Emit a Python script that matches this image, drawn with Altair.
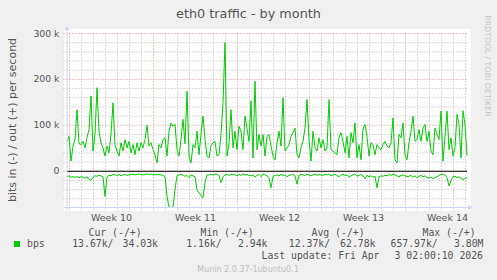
import altair as alt
import pandas as pd

# ---------------- data ----------------
TITLE = "eth0 traffic - by month"
Y_TITLE = "bits in (-) / out (+) per second"
WATERMARK = "RRDTOOL / TOBI OETIKER"
FOOTER = "Munin 2.0.37-1ubuntu0.1"
SERIES_NAME = "bps"
STEP_HOURS = 4  # spacing of the samples, hours

# out (+) traffic, k bits/s
out_k = [65, 76, 22, 55, 69, 134, 60, 58, 65, 51,
         73, 91, 164, 44, 80, 182, 87, 62, 51, 33,
         55, 40, 80, 149, 58, 44, 33, 62, 44, 69,
         51, 65, 40, 58, 36, 62, 44, 62, 51, 69,
         100, 55, 62, 47, 36, 18, 58, 51, 69, 73,
         33, 87, 105, 98, 102, 47, 33, 69, 113, 60,
         174, 33, 18, 58, 51, 87, 36, 80, 120, 69,
         33, 29, 55, 62, 65, 33, 36, 80, 149, 280,
         33, 60, 134, 51, 87, 47, 98, 87, 47, 120,
         94, 65, 153, 29, 196, 47, 80, 55, 80, 33,
         76, 80, 55, 33, 25, 62, 87, 55, 160, 44,
         51, 58, 76, 84, 94, 36, 29, 51, 65, 94,
         156, 69, 22, 87, 51, 44, 73, 51, 69, 44,
         51, 156, 47, 44, 40, 36, 73, 84, 65, 40,
         76, 29, 84, 62, 105, 29, 58, 25, 91, 102,
         76, 33, 62, 58, 36, 58, 51, 47, 58, 65,
         55, 51, 62, 116, 25, 18, 80, 73, 105, 36,
         25, 62, 87, 120, 65, 69, 91, 65, 94, 102,
         65, 87, 44, 36, 94, 80, 69, 131, 22, 76,
         131, 47, 73, 33, 51, 124, 102, 29, 132, 102,
         34]

# in (-) traffic, k bits/s (drawn below zero)
in_k = [12, 10, 13, 12, 13, 12, 14, 12, 13, 15,
        12, 18, 20, 13, 10, 11, 9, 10, 12, 55,
        12, 9, 10, 7, 8, 9, 7, 10, 8, 7,
        9, 8, 7, 7, 8, 7, 6, 7, 8, 7,
        6, 7, 6, 8, 7, 8, 7, 8, 9, 12,
        55, 78, 79, 78, 40, 10, 8, 7, 8, 11,
        9, 14, 8, 10, 12, 40, 48, 52, 58, 25,
        8, 8, 7, 8, 6, 7, 9, 25, 12, 8,
        7, 9, 6, 7, 8, 10, 7, 9, 6, 8,
        7, 9, 10, 8, 13, 9, 7, 12, 6, 8,
        10, 14, 36, 12, 9, 8, 10, 7, 9, 8,
        12, 9, 8, 7, 10, 28, 9, 7, 8, 9,
        7, 8, 10, 8, 6, 9, 7, 8, 9, 7,
        8, 6, 10, 8, 7, 9, 12, 8, 7, 9,
        8, 13, 10, 8, 6, 11, 9, 7, 10, 16,
        9, 12, 10, 13, 11, 36, 12, 10, 11, 9,
        10, 7, 9, 6, 8, 10, 12, 9, 8, 10,
        12, 11, 9, 13, 10, 14, 11, 9, 12, 10,
        14, 15, 13, 16, 14, 12, 9, 7, 6, 8,
        14, 32, 20, 12, 11, 14, 12, 15, 18, 16,
        14]

week_labels = ["Week 10", "Week 11", "Week 12", "Week 13", "Week 14"]
week_mid_hours = [89, 257, 425, 593, 761]
week_start_hours = [5, 173, 341, 509, 677]
day_start_hours = list(range(5, 800, 24))
y_major = [0, 100, 200, 300]
y_tick_labels = ["0", "100 k", "200 k", "300 k"]
y_minor = [-60, -40, -20, 20, 40, 60, 80, 120, 140, 160, 180, 220, 240, 260, 280]

legend_headers = ["Cur (-/+)", "Min (-/+)", "Avg (-/+)", "Max (-/+)"]
legend_in = ["13.67k/", "1.16k/", "12.37k/", "657.97k/"]
legend_out = ["34.03k", "2.94k", "62.78k", "3.80M"]
last_update = ["Last update: Fri Apr", "3 02:00:10 2026"]

# ---------------- layout / style ----------------
PL, PT, PW, PH = 67, 33.5, 400, 174
W, H = 497, 280
FONT = "DejaVu Sans"
MONO = "DejaVu Sans Mono"
FONT_COLOR = "#555555"
AXIS_COLOR = "#CFD6F8"
GREEN = "#00CC00"
GRID_COLOR = "#B4B4B4"
MGRID_COLOR = "#E58A8A"

xs = alt.Scale(domain=[0, 800], nice=False, zero=False)
ys = alt.Scale(domain=[-79, 300], nice=False, zero=False)

one = pd.DataFrame({"k": [0]})


def vx(px):
    return px - PL


def vy(py):
    return py - PT


def label(text, px, py, size, color=FONT_COLOR, font=FONT, align="left", angle=0, baseline="alphabetic"):
    return alt.Chart(one).mark_text(
        text=text, font=font, fontSize=size, color=color, align=align,
        baseline=baseline, angle=angle
    ).encode(x=alt.value(vx(px)), y=alt.value(vy(py)))


# line data
rows = []
for i, v in enumerate(out_k):
    rows.append({"h": i * STEP_HOURS, "v": v, "series": "out"})
for i, v in enumerate(in_k):
    rows.append({"h": i * STEP_HOURS, "v": -v, "series": "in"})
lines_df = pd.DataFrame(rows)

canvas = alt.Chart(one).mark_rect(color="#FFFFFF").encode(
    x=alt.value(vx(64)), x2=alt.value(vx(471)), y=alt.value(vy(29)), y2=alt.value(vy(211)))

day_minor = [d for d in day_start_hours if d not in week_start_hours]
vgrid = alt.Chart(pd.DataFrame({"h": day_minor})).mark_rule(
    color=GRID_COLOR, strokeWidth=1, strokeDash=[1, 2]).encode(
    x=alt.X("h:Q", scale=xs, axis=None), y=alt.value(0), y2=alt.value(PH + 3.5))
hgrid = alt.Chart(pd.DataFrame({"v": y_minor})).mark_rule(
    color=GRID_COLOR, strokeWidth=1, strokeDash=[1, 2]).encode(
    y=alt.Y("v:Q", scale=ys, axis=None), x=alt.value(-3.5), x2=alt.value(PW))
vmgrid = alt.Chart(pd.DataFrame({"h": week_start_hours})).mark_rule(
    color=MGRID_COLOR, strokeWidth=1, strokeDash=[1, 2]).encode(
    x=alt.X("h:Q", scale=xs, axis=None), y=alt.value(0), y2=alt.value(PH + 3.5))
hmgrid = alt.Chart(pd.DataFrame({"v": y_major})).mark_rule(
    color=MGRID_COLOR, strokeWidth=1, strokeDash=[1, 2]).encode(
    y=alt.Y("v:Q", scale=ys, axis=None), x=alt.value(-3.5), x2=alt.value(PW))

lines = alt.Chart(lines_df).mark_line(color=GREEN, strokeWidth=1).encode(
    x=alt.X("h:Q", scale=xs, axis=None),
    y=alt.Y("v:Q", scale=ys, axis=None),
    detail="series:N",
)

zero = alt.Chart(pd.DataFrame({"v": [0]})).mark_rule(color="#000000", strokeWidth=1.2).encode(
    y=alt.Y("v:Q", scale=ys, axis=None), x=alt.value(0), x2=alt.value(PW))

yaxis = alt.Chart(one).mark_rule(color=AXIS_COLOR, strokeWidth=1).encode(
    x=alt.value(0), y=alt.value(-3), y2=alt.value(PH + 3))
xaxis = alt.Chart(one).mark_rule(color=AXIS_COLOR, strokeWidth=1).encode(
    y=alt.value(PH), x=alt.value(-3.5), x2=alt.value(PW + 3))
arrow_up = alt.Chart(one).mark_point(shape="triangle-up", filled=True, size=28, color=AXIS_COLOR, opacity=1).encode(
    x=alt.value(0), y=alt.value(-5.5))
arrow_right = alt.Chart(one).mark_point(shape="triangle-right", filled=True, size=28, color=AXIS_COLOR, opacity=1).encode(
    x=alt.value(PW + 3.5), y=alt.value(PH))

# tick labels drawn through the scales
week_text = alt.Chart(pd.DataFrame({"h": week_mid_hours, "t": week_labels})).mark_text(
    font=FONT, fontSize=9.5, color=FONT_COLOR, align="center", baseline="alphabetic").encode(
    x=alt.X("h:Q", scale=xs, axis=None), y=alt.value(vy(220.5)), text="t:N")
ytick_text = alt.Chart(pd.DataFrame({"v": y_major, "t": y_tick_labels})).mark_text(
    font=FONT, fontSize=9.3, color=FONT_COLOR, align="right", baseline="middle").encode(
    y=alt.Y("v:Q", scale=ys, axis=None), x=alt.value(vx(59.5)), text="t:N")

texts = [
    label(TITLE, 248.5, 17.5, 12.8, align="center"),
    label(Y_TITLE, 15.5, 120, 11, align="center", angle=270),
    label(WATERMARK, 484.5, 66, 7.9, color="#C4C4C4", align="center", angle=90),
    label(FOOTER, 248, 272, 8, color="#BEBEBE", align="center"),
    label(SERIES_NAME, 27, 247, 9.8, font=MONO),
    label(last_update[0], 261.5, 259.3, 9.8, font=MONO),
    label(last_update[1], 483, 259.3, 9.8, font=MONO, align="right"),
]
header_x = [88.5, 200.5, 311.5, 422.5]
in_x = [72.2, 186.2, 288.8, 390.5]
out_x = [158, 267.5, 375.5, 483.5]
for t, px in zip(legend_headers, header_x):
    texts.append(label(t, px, 235.5, 9.8, font=MONO))
for t, px in zip(legend_in, in_x):
    texts.append(label(t, px, 247, 9.8, font=MONO))
for t, px in zip(legend_out, out_x):
    texts.append(label(t, px, 247, 9.8, font=MONO, align="right"))

legend_box = alt.Chart(one).mark_rect(color=GREEN).encode(
    x=alt.value(vx(14)), x2=alt.value(vx(20)), y=alt.value(vy(241)), y2=alt.value(vy(247)))

chart = alt.layer(
    canvas, vgrid, hgrid, vmgrid, hmgrid, lines, zero, yaxis, xaxis, arrow_up, arrow_right,
    week_text, ytick_text, legend_box, *texts
).properties(
    width=PW, height=PH, background="#F0F0F0",
    padding={"left": PL, "top": PT, "right": W - PL - PW, "bottom": H - PT - PH},
    autosize=alt.AutoSizeParams(type="none"),
).configure_view(stroke=None, fill=None)

chart.save("out.html", embed_options={"renderer": "svg", "actions": False})
